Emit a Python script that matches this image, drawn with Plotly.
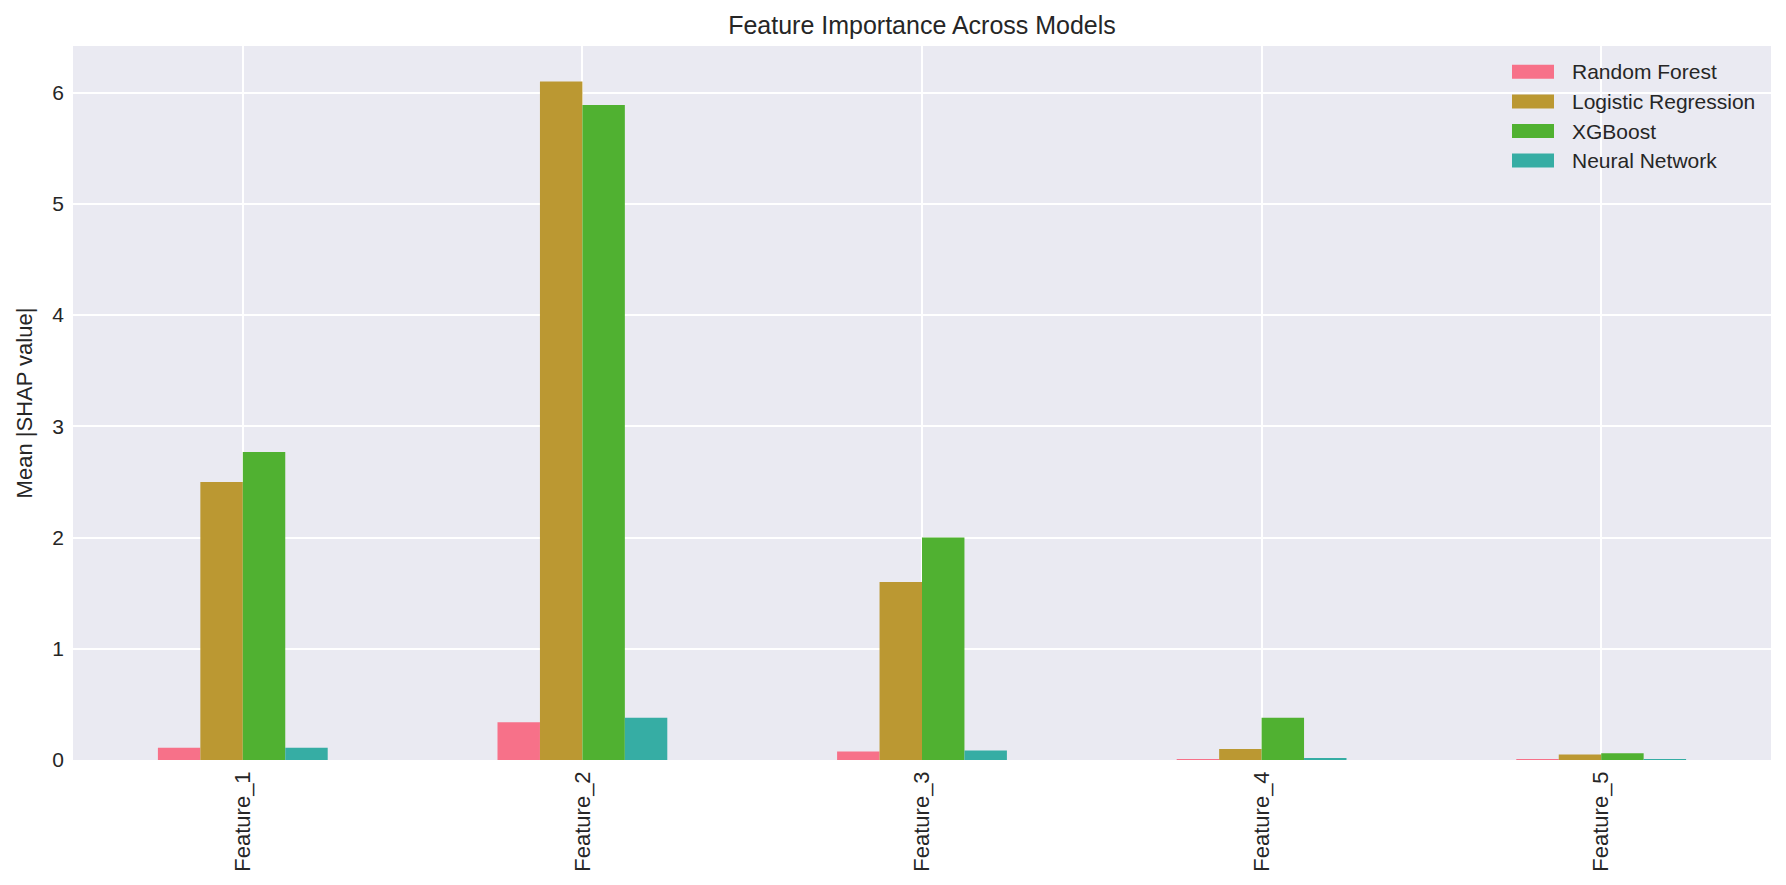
import plotly.graph_objects as go

features = ["Feature_1", "Feature_2", "Feature_3", "Feature_4", "Feature_5"]
models = ["Random Forest", "Logistic Regression", "XGBoost", "Neural Network"]
rf = [0.11, 0.34, 0.077, 0.006, 0.005]
lr = [2.50, 6.10, 1.60, 0.10, 0.05]
xgb = [2.77, 5.89, 2.00, 0.38, 0.06]
nn = [0.11, 0.38, 0.085, 0.01, 0.002]
colors = ["#f77189", "#bb9832", "#50b131", "#36ada4"]

W, H = 1786, 885
fig = go.Figure()
for name, vals, c in zip(models, [rf, lr, xgb, nn], colors):
    fig.add_trace(go.Bar(x=features, y=vals, name=name, marker=dict(color=c, line=dict(width=0))))

font = "Liberation Sans, Arial, sans-serif"

# manual legend (matplotlib-style wide patches)
leg_x0, leg_x1, txt_x = 1512, 1554, 1570
row0, row_step, box_h = 71.8, 29.6, 14
shapes, annos = [], []
for i, (name, c) in enumerate(zip(models, colors)):
    yc = row0 + i * row_step
    shapes.append(dict(type="rect", xref="paper", yref="paper",
                       x0=(leg_x0 - 73) / (W - 88), x1=(leg_x1 - 73) / (W - 88),
                       y0=(760 - yc - box_h / 2) / (760 - 46), y1=(760 - yc + box_h / 2) / (760 - 46),
                       fillcolor=c, line=dict(width=0), layer="above"))
    annos.append(dict(text=name, xref="paper", yref="paper", showarrow=False,
                      x=(txt_x - 73) / (W - 88), y=(760 - yc) / (760 - 46),
                      xanchor="left", yanchor="middle", font=dict(size=21, color="#262626")))

fig.update_layout(
    width=W, height=H,
    margin=dict(l=73, r=15, t=46, b=125),
    paper_bgcolor="white", plot_bgcolor="#eaeaf2",
    barmode="group", bargap=0.5, bargroupgap=0,
    font=dict(family=font, color="#262626", size=16),
    title=dict(text="Feature Importance Across Models", xref="paper", x=0.5, xanchor="center",
               y=1 - 25 / H, yanchor="middle", font=dict(size=25, color="#262626")),
    showlegend=False,
    shapes=shapes, annotations=annos,
    xaxis=dict(range=[-0.5, 4.5], tickangle=-90, showgrid=True, gridcolor="white", gridwidth=1.5,
               zeroline=False, ticks="", tickfont=dict(size=22), showline=False,
               ticklabelstandoff=6),
    yaxis=dict(range=[0, 6.42], dtick=1, showgrid=True, gridcolor="white", gridwidth=1.5,
               zeroline=False, ticks="", tickfont=dict(size=21), ticklabelstandoff=8,
               title=dict(text="Mean |SHAP value|", font=dict(size=22), standoff=13)),
)
fig.write_html("out.html")
